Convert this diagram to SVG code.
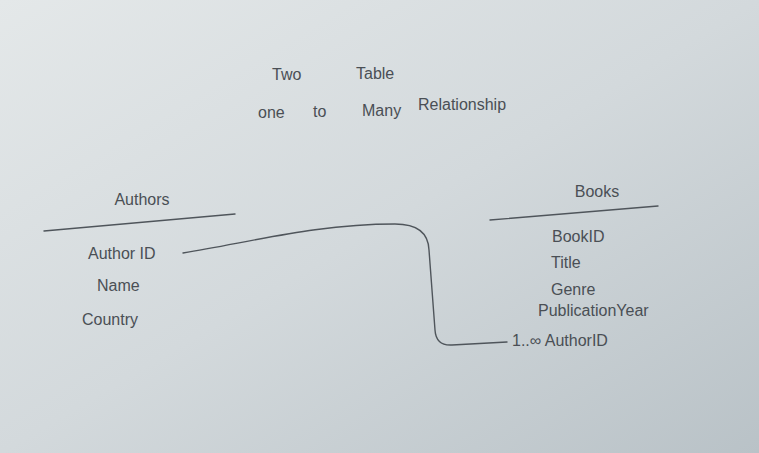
<svg xmlns="http://www.w3.org/2000/svg" width="759" height="453" viewBox="0 0 759 453">
<defs>
<linearGradient id="bg" x1="0" y1="0" x2="1" y2="1">
<stop offset="0" stop-color="#e4e8e9"/>
<stop offset="0.5" stop-color="#d3d9dc"/>
<stop offset="1" stop-color="#b9c2c7"/>
</linearGradient>
<style>
text{font-family:"Liberation Sans",Arial,sans-serif;fill:#4a4f55;font-size:16px}
.h{font-size:15px}
.ln{stroke:#4f555b;stroke-width:1.4;fill:none;stroke-linecap:round}
</style>
</defs>
<rect width="759" height="453" fill="url(#bg)"/>
<g id="title">
<text x="272" y="80">Two</text>
<text x="356" y="79">Table</text>
<text x="258" y="118" font-size="13">one</text>
<text x="313" y="117" font-size="13">to</text>
<text x="362" y="116" font-size="14">Many</text>
<text x="418" y="110" font-size="14">Relationship</text>
</g>
<g id="authors">
<text x="142" y="205" text-anchor="middle">Authors</text>
<path class="ln" d="M44,231 L235,214"/>
<text x="88" y="259">Author ID</text>
<text x="97" y="291">Name</text>
<text x="82" y="325">Country</text>
</g>
<g id="books">
<text x="597" y="197" text-anchor="middle">Books</text>
<path class="ln" d="M490,220 L658,206"/>
<text x="552" y="242">BookID</text>
<text x="551" y="268">Title</text>
<text x="551" y="295">Genre</text>
<text x="538" y="316" font-size="14">PublicationYear</text>
<text x="512" y="346">1..∞ AuthorID</text>
</g>
<g id="connectors">
<path class="ln" d="M183,253 C260,240 320,224 395,224 Q428,224 429,250 L435,330 Q436,346 452,345 L507,342"/>
</g>
</svg>
